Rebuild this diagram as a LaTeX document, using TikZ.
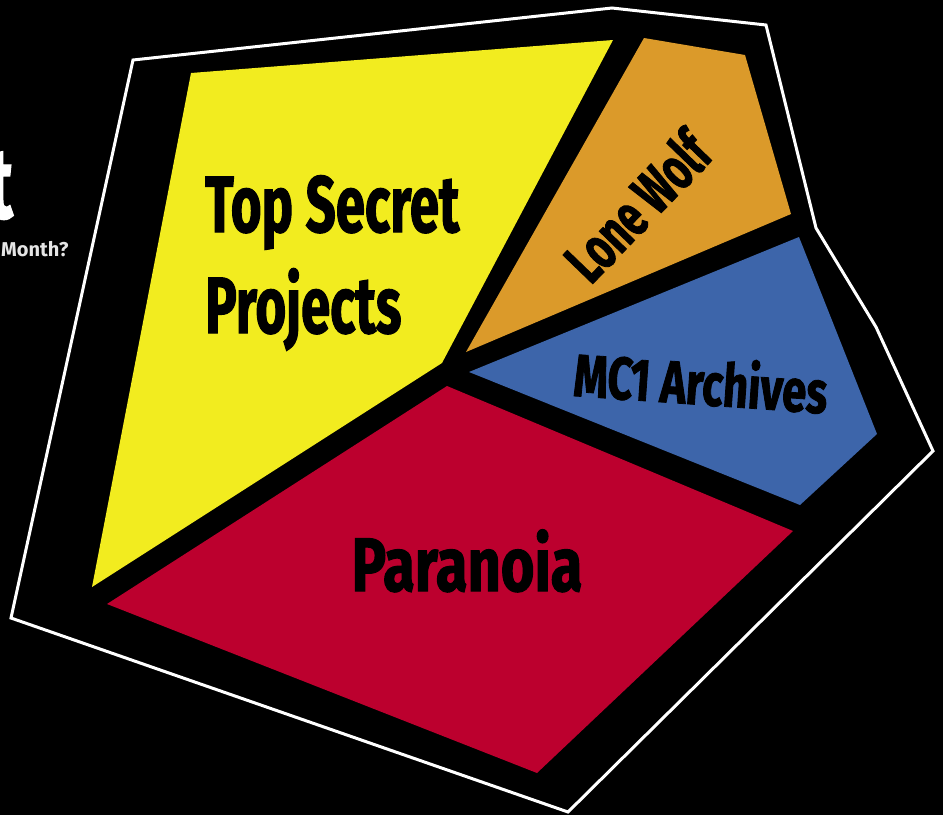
\documentclass[tikz,border=0pt]{standalone}
\usepackage{fontspec}
\newfontfamily\condfont[FakeStretch=0.66,FakeBold=1.3]{Fira Sans}
\newfontfamily\plainfont{Fira Sans}
\definecolor{secretyellow}{RGB}{242,236,31}
\definecolor{wolforange}{RGB}{219,154,42}
\definecolor{archiveblue}{RGB}{61,101,170}
\definecolor{paranoiared}{RGB}{188,0,46}
\tikzset{
	areatext/.style={inner sep=0pt, text=black, font=\condfont\bfseries\fontsize{#1}{#1}\selectfont},
}

\begin{document}
\begin{tikzpicture}[x=1pt, y=-1pt]
		%%%%% START %%%%%
		
		\fill[black] (0, 0) rectangle (943, 815);
		\useasboundingbox (0, 0) rectangle (943, 815);
		
		% title left over from the slide
		\node[inner sep=0pt, anchor=base east, text=white, font=\condfont\bfseries\fontsize{100}{100}\selectfont] (titleend) at (13, 218) {t};
		\node[inner sep=0pt, anchor=base west, text=white!90!black, font=\plainfont\bfseries\fontsize{20}{20}\selectfont] (question) at (1, 256) {Month?};
		
		\draw[white, line width=3pt, line join=miter] (133, 60) -- (612, 8) -- (766, 25) -- (816, 228) -- (876, 327) -- (933, 451) -- (568, 812) -- (11, 618) -- cycle;
		
		\fill[secretyellow] (191, 73) -- (613, 40) -- (442, 363) -- (92, 587) -- cycle;
		\fill[wolforange] (644, 38) -- (745, 55) -- (791, 214) -- (466, 352) -- cycle;
		\fill[archiveblue] (469, 372) -- (799, 237) -- (877, 434) -- (800, 505) -- cycle;
		\fill[paranoiared] (447, 386) -- (793, 531) -- (537, 773) -- (107, 604) -- cycle;
		
		\node[areatext=80, anchor=base west] (topsecret) at (205, 232) {Top Secret};
		\node[areatext=80, anchor=base west] (projects) at (205, 333) {Projects};
		\node[areatext=60, rotate=46] (lonewolf) at (637, 206) {Lone Wolf};
		\node[areatext=60, rotate=-4] (archives) at (701, 381) {\scalebox{1.1}[1]{MC1 Archives}};
		\node[areatext=76, anchor=base] (paranoia) at (467, 591) {\scalebox{1.15}[1]{Paranoia}};
		
		%%%%% END %%%%%
\end{tikzpicture}
\end{document}
